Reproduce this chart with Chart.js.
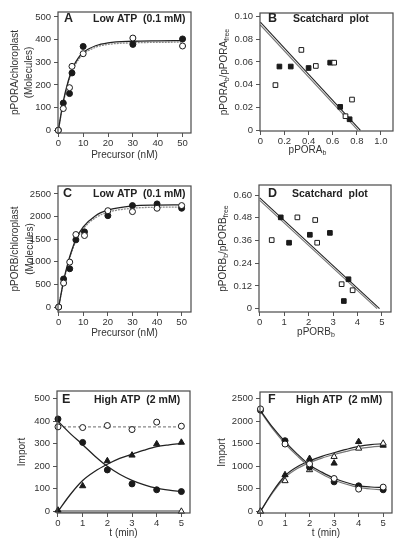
<!DOCTYPE html>
<html>
<head>
<meta charset="utf-8">
<script src="https://cdn.jsdelivr.net/npm/chart.js@4.4.0/dist/chart.umd.min.js"></script>
<style>
html, body { margin: 0; padding: 0; background: #fff; width: 400px; height: 547px; overflow: hidden; }
body { position: relative; }
canvas { position: absolute; }
</style>
</head>
<body>
<canvas id="cA" width="200" height="175" style="left:0;top:0"></canvas>
<canvas id="cB" width="200" height="175" style="left:200px;top:0"></canvas>
<canvas id="cC" width="200" height="180" style="left:0;top:170px"></canvas>
<canvas id="cD" width="200" height="180" style="left:200px;top:170px"></canvas>
<canvas id="cE" width="200" height="177" style="left:0;top:370px"></canvas>
<canvas id="cF" width="200" height="177" style="left:200px;top:370px"></canvas>
<script>
// A - pPORA, low ATP
const concA = [0, 2, 4.5, 5.5, 10, 30, 50];
const filledA = [0, 120, 162, 253, 370, 379, 403];
const openA = [0, 96, 188, 282, 338, 407, 372];
const fitConcA = [0, 2, 4, 5, 6, 8, 10, 15, 20, 30, 40, 50];
const fitA1 = [0, 128, 218, 252, 280, 318, 343, 373, 386, 393, 395, 396];
const fitA2 = [0, 121, 210, 244, 272, 310, 336, 366, 379, 386, 388, 389];

// B - Scatchard pPORA
const bxFilled = [0.158, 0.252, 0.40, 0.579, 0.662, 0.74];
const byFilled = [0.056, 0.056, 0.0547, 0.0594, 0.0206, 0.0097];
const bxOpen = [0.125, 0.34, 0.46, 0.612, 0.706, 0.76];
const byOpen = [0.0397, 0.0706, 0.0565, 0.0594, 0.0124, 0.027];
const lineBx1 = [0, 0.83], lineBy1 = [0.095, 0];
const lineBx2 = [0, 0.81], lineBy2 = [0.0925, 0];

// C - pPORB, low ATP
const concC = [0, 2, 4.5, 7, 10.5, 20, 30, 40, 50];
const filledC = [0, 620, 846, 1485, 1662, 2020, 2243, 2280, 2184];
const openC = [0, 530, 993, 1603, 1581, 2130, 2110, 2184, 2243];
const fitConcC = [0, 2, 4, 5, 7, 10, 15, 20, 30, 40, 50];
const fitC1 = [0, 580, 1020, 1200, 1500, 1770, 2020, 2140, 2235, 2255, 2260];
const fitC2 = [0, 550, 985, 1165, 1460, 1730, 1975, 2095, 2185, 2205, 2210];

// D - Scatchard pPORB
const dxFilled = [0.86, 1.2, 2.05, 2.87, 3.63, 3.44];
const dyFilled = [0.482, 0.348, 0.39, 0.40, 0.155, 0.04];
const dxOpen = [0.49, 1.54, 2.27, 2.35, 3.35, 3.8];
const dyOpen = [0.362, 0.482, 0.468, 0.348, 0.129, 0.097];
const lineDx1 = [0, 4.9], lineDy1 = [0.585, 0];
const lineDx2 = [0, 4.8], lineDy2 = [0.572, 0];

// E - pPORA, high ATP time course
const timeE = [0, 1, 2, 3, 4, 5];
const filledCircE = [410, 306, 184, 122, 96, 88];
const openCircE = [375, 372, 381, 363, 396, 378];
const filledTriE = [5, 113, 224, 249, 299, 306];
const openTriE = [0, 0, 0, 0, 0, 0];
const fitTime = [0, 0.5, 1, 1.5, 2, 2.5, 3, 3.5, 4, 4.5, 5];
const decayE = [400, 345, 296, 245, 200, 165, 138, 118, 103, 94, 88];
const riseE = [0, 75, 137, 178, 209, 235, 254, 272, 287, 295, 301];
const flatE = [375, 375, 375, 375, 375, 375, 375, 375, 375, 375, 375];

// F - pPORB, high ATP time course
const timeF = [0, 1, 2, 3, 4, 5];
const filledCircF = [2243, 1566, 978, 654, 566, 478];
const openCircF = [2272, 1493, 1051, 728, 493, 537];
const filledTriF = [0, 809, 1169, 1066, 1544, 1463];
const openTriF = [0, 676, 919, 1213, 1397, 1507];
const decayF1 = [2235, 1860, 1545, 1270, 1030, 870, 735, 640, 570, 540, 525];
const decayF2 = [2215, 1830, 1505, 1230, 990, 830, 695, 600, 530, 495, 478];
const riseF1 = [0, 440, 790, 990, 1120, 1220, 1300, 1375, 1440, 1480, 1500];
const riseF2 = [0, 415, 750, 950, 1080, 1180, 1260, 1330, 1390, 1425, 1445];

// tick labels
const ticks500 = [0, 100, 200, 300, 400, 500];
const ticks2500 = [0, 500, 1000, 1500, 2000, 2500];
const ticksConc = [0, 10, 20, 30, 40, 50];
const ticksTime = [0, 1, 2, 3, 4, 5];
const ticksBy = [0, 0.02, 0.04, 0.06, 0.08, 0.10];
const labelsBy = ['0', '0.02', '0.04', '0.06', '0.08', '0.10'];
const ticksBx = [0, 0.2, 0.4, 0.6, 0.8, 1.0];
const labelsBx = ['0', '0.2', '0.4', '0.6', '0.8', '1.0'];
const ticksDy = [0, 0.12, 0.24, 0.36, 0.48, 0.60];
const labelsDy = ['0', '0.12', '0.24', '0.36', '0.48', '0.60'];

const FONT = '"Liberation Sans", Arial, Helvetica, sans-serif';
const INK = '#1a1a1a';

const pts = (xs, ys) => xs.map((x, i) => ({x: x, y: ys[i]}));

function marks(xs, ys, style, filled, r) {
  return {
    data: pts(xs, ys), showLine: false, clip: false,
    pointStyle: style, pointRadius: r, pointHoverRadius: r,
    pointBackgroundColor: filled ? INK : '#fff',
    pointBorderColor: INK, pointBorderWidth: 1
  };
}

function curve(xs, ys, color, width, dash) {
  return {
    data: pts(xs, ys), showLine: true, pointRadius: 0,
    borderColor: color, borderWidth: width, borderDash: dash || [],
    cubicInterpolationMode: 'monotone', fill: false
  };
}

function scale(axis, min, max, values, labels, size, title) {
  return {
    type: 'linear', min: min, max: max,
    afterBuildTicks: s => { s.ticks = values.map(v => ({value: v})); },
    afterFit: s => { if (axis === 'x') s.height = size; else s.width = size; },
    grid: {drawOnChartArea: false, drawTicks: true, tickLength: 4, color: '#555', lineWidth: 1},
    border: {display: false},
    ticks: {
      autoSkip: false, maxRotation: 0, padding: axis === 'x' ? 1 : 3,
      color: '#333', font: {family: FONT, size: 9.5},
      callback: (v, i) => labels ? labels[i] : String(values[i])
    },
    title: title || {display: false}
  };
}

function axisTitle(text, padTop, padBottom, lineHeight) {
  return {
    display: true, text: text, color: '#333',
    font: {family: FONT, size: 10, lineHeight: lineHeight || 1.2},
    padding: {top: padTop, bottom: padBottom}
  };
}

function drawSub(ctx, parts, x, y, rot) {
  const big = '10px ' + FONT, small = '7px ' + FONT;
  let w = 0;
  parts.forEach(p => { ctx.font = p[1] ? small : big; w += ctx.measureText(p[0]).width; });
  ctx.save();
  ctx.translate(x, y);
  ctx.rotate(rot);
  ctx.textAlign = 'left';
  ctx.textBaseline = 'middle';
  let cx = -w / 2;
  parts.forEach(p => {
    ctx.font = p[1] ? small : big;
    ctx.fillText(p[0], cx, p[1] ? 3 : 0);
    cx += ctx.measureText(p[0]).width;
  });
  ctx.restore();
}

// frame, panel letter, heading and subscripted axis titles
const panelPlugin = {
  id: 'panel',
  afterDraw(chart, args, o) {
    const ctx = chart.ctx, a = chart.chartArea;
    ctx.save();
    ctx.strokeStyle = '#4a4a4a';
    ctx.lineWidth = 1.2;
    ctx.strokeRect(a.left, a.top, a.right - a.left, a.bottom - a.top);
    ctx.fillStyle = '#222';
    ctx.textAlign = 'left';
    ctx.textBaseline = 'middle';
    ctx.font = 'bold 12.5px ' + FONT;
    ctx.fillText(o.letter, a.left + o.letterDx, a.top + o.dy);
    ctx.font = 'bold 10.5px ' + FONT;
    ctx.fillText(o.text, a.left + o.textDx, a.top + o.dy);
    ctx.fillStyle = '#333';
    if (o.xSub) drawSub(ctx, o.xSub, (a.left + a.right) / 2 + o.xSubDx, a.bottom + o.xSubDy, 0);
    if (o.ySub) drawSub(ctx, o.ySub, a.left - o.ySubDx, (a.top + a.bottom) / 2, -Math.PI / 2);
    ctx.restore();
  }
};

function panel(id, o) {
  new Chart(document.getElementById(id), {
    type: 'scatter',
    data: {datasets: o.datasets},
    options: {
      responsive: false, animation: false, events: [],
      layout: {padding: {top: o.padTop, right: o.padRight, left: 0, bottom: 0}},
      scales: {x: o.x, y: o.y},
      plugins: {legend: {display: false}, tooltip: {enabled: false}, panel: o.panel}
    },
    plugins: [panelPlugin]
  });
}

panel('cA', {
  padTop: 12, padRight: 9,
  datasets: [
    marks(concA, openA, 'circle', false, 3),
    marks(concA, filledA, 'circle', true, 3),
    curve(fitConcA, fitA1, '#222', 1.3),
    curve(fitConcA, fitA2, '#8a8a8a', 1.3, [2, 1])
  ],
  x: scale('x', -0.13, 53.4, ticksConc, null, 42, axisTitle('Precursor (nM)', 4, 14)),
  y: scale('y', -12, 522, ticks500, null, 58, axisTitle(['pPORA/chloroplast', '(Molecules)'], 8, 4, 1.4)),
  panel: {letter: 'A', text: 'Low ATP  (0.1 mM)', letterDx: 6, textDx: 35, dy: 7}
});

panel('cB', {
  padTop: 13, padRight: 7,
  datasets: [
    marks(bxOpen, byOpen, 'rect', false, 3.3),
    marks(bxFilled, byFilled, 'rect', true, 3.3),
    curve(lineBx1, lineBy1, '#222', 1.1),
    curve(lineBx2, lineBy2, '#777', 1.1)
  ],
  x: scale('x', -0.003, 1.1, ticksBx, labelsBx, 44),
  y: scale('y', -0.0006, 0.103, ticksBy, labelsBy, 60),
  panel: {letter: 'B', text: 'Scatchard  plot', letterDx: 8, textDx: 33, dy: 6,
    xSub: [['pPORA', false], ['b', true]], xSubDx: -19, xSubDy: 19,
    ySub: [['pPORA', false], ['b', true], ['/pPORA', false], ['free', true]], ySubDx: 36}
});

panel('cC', {
  padTop: 16, padRight: 9,
  datasets: [
    marks(concC, openC, 'circle', false, 3),
    marks(concC, filledC, 'circle', true, 3),
    curve(fitConcC, fitC1, '#222', 1.3),
    curve(fitConcC, fitC2, '#8a8a8a', 1.3, [2, 1])
  ],
  x: scale('x', -0.27, 53.8, ticksConc, null, 38, axisTitle('Precursor (nM)', 4, 11)),
  y: scale('y', -110, 2676, ticks2500, null, 58, axisTitle(['pPORB/chloroplast', '(Molecules)'], 7.5, 4, 1.5)),
  panel: {letter: 'C', text: 'Low ATP  (0.1 mM)', letterDx: 5, textDx: 35, dy: 8}
});

panel('cD', {
  padTop: 15, padRight: 9,
  datasets: [
    marks(dxOpen, dyOpen, 'rect', false, 3.3),
    marks(dxFilled, dyFilled, 'rect', true, 3.3),
    curve(lineDx1, lineDy1, '#222', 1.1),
    curve(lineDx2, lineDy2, '#777', 1.1)
  ],
  x: scale('x', -0.03, 5.37, ticksTime, null, 38),
  y: scale('y', -0.018, 0.653, ticksDy, labelsDy, 59),
  panel: {letter: 'D', text: 'Scatchard  plot', letterDx: 9, textDx: 33, dy: 9,
    xSub: [['pPORB', false], ['b', true]], xSubDx: -9, xSubDy: 20,
    ySub: [['pPORB', false], ['b', true], ['/pPORB', false], ['free', true]], ySubDx: 36}
});

// open triangles in E sit under the grey baseline; only the last one shows
const openTriMarksE = marks(timeE, openTriE, 'triangle', false, 3.6);
openTriMarksE.pointRadius = [0, 0, 0, 0, 0, 3.6];

panel('cE', {
  padTop: 21, padRight: 10,
  datasets: [
    marks(timeE, openCircE, 'circle', false, 3),
    marks(timeE, filledCircE, 'circle', true, 3),
    marks(timeE, filledTriE, 'triangle', true, 3.6),
    openTriMarksE,
    curve(fitTime, decayE, '#222', 1.3),
    curve(fitTime, riseE, '#222', 1.3),
    curve(fitTime, flatE, '#888', 1.2, [3, 2]),
    curve(timeE, openTriE, '#9a9a9a', 3)
  ],
  x: scale('x', -0.04, 5.35, ticksTime, null, 34, axisTitle('t (min)', 4, 8)),
  y: scale('y', -7, 534, ticks500, null, 57, axisTitle('Import', 16, 4)),
  panel: {letter: 'E', text: 'High ATP  (2 mM)', letterDx: 5, textDx: 37, dy: 9}
});

panel('cF', {
  padTop: 22, padRight: 8,
  datasets: [
    marks(timeF, openCircF, 'circle', false, 3),
    marks(timeF, filledCircF, 'circle', true, 3),
    marks(timeF, openTriF, 'triangle', false, 3.6),
    marks(timeF, filledTriF, 'triangle', true, 3.6),
    curve(fitTime, decayF1, '#222', 1.2),
    curve(fitTime, decayF2, '#777', 1.2),
    curve(fitTime, riseF1, '#222', 1.2),
    curve(fitTime, riseF2, '#777', 1.2)
  ],
  x: scale('x', -0.02, 5.36, ticksTime, null, 34, axisTitle('t (min)', 4, 8)),
  y: scale('y', -37, 2647, ticks2500, null, 60, axisTitle('Import', 16, 4)),
  panel: {letter: 'F', text: 'High ATP  (2 mM)', letterDx: 8, textDx: 36, dy: 8}
});
</script>
</body>
</html>
